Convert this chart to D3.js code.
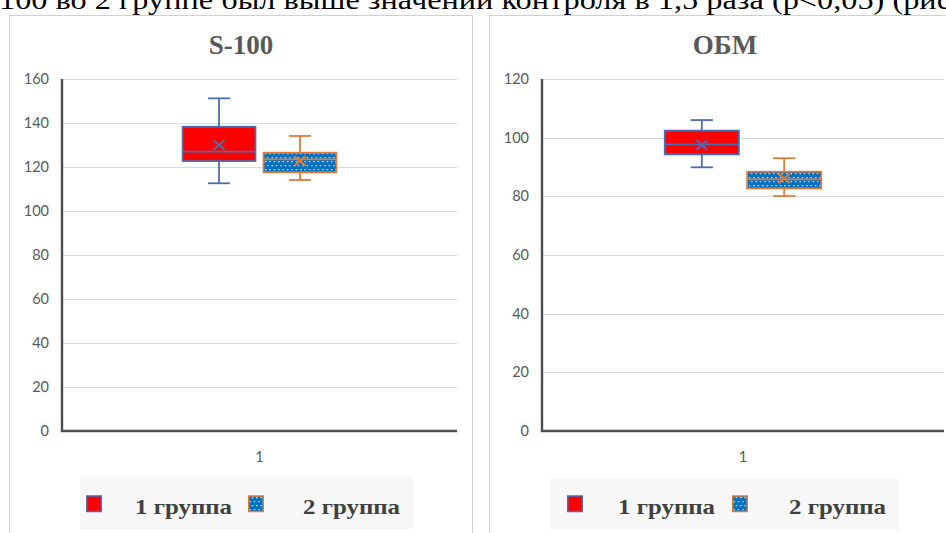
<!DOCTYPE html>
<html>
<head>
<meta charset="utf-8">
<script src="https://cdn.jsdelivr.net/npm/d3@7/dist/d3.min.js"></script>
<style>
  html, body { margin: 0; padding: 0; background: #fff; overflow: hidden; }
  svg { display: block; }
</style>
</head>
<body>
<svg id="fig" width="946" height="533"></svg>
<script>
// ---- data ----
const categories = ["1"];
const groups = ["1 группа", "2 группа"];

// S-100: [whisker low, Q1, median, Q3, whisker high, mean] per group
const s100Low    = [112.6, 114.1];
const s100Q1     = [122.7, 117.6];
const s100Median = [127.0, 123.5];
const s100Q3     = [138.3, 126.5];
const s100High   = [151.2, 134.1];
const s100Mean   = [130.0, 122.7];
const s100Ticks  = [0, 20, 40, 60, 80, 100, 120, 140, 160];

// ОБМ
const obmLow    = [89.9, 80.1];
const obmQ1     = [94.3, 82.7];
const obmMedian = [97.7, 85.8];
const obmQ3     = [102.4, 88.4];
const obmHigh   = [106.0, 93.0];
const obmMean   = [97.5, 86.1];
const obmTicks  = [0, 20, 40, 60, 80, 100, 120];

const headerText = "100 во 2 группе был выше значений контроля в 1,5 раза (р<0,05) (рис";

// ---- styles ----
const fills   = ["#ff0000", "url(#dots)"];
const strokes = ["#4a6db3", "#e07b39"];
const axisInk = "#595959";
const gridInk = "#d9d9d9";
const tickFont = "Lato, 'Open Sans', sans-serif";
const serif = "'Liberation Serif', 'Times New Roman', serif";

const svg = d3.select("#fig");

// dotted fill for the second group
const defs = svg.append("defs");
const pat = defs.append("pattern")
  .attr("id", "dots").attr("patternUnits", "userSpaceOnUse")
  .attr("width", 4.4).attr("height", 8);
pat.append("rect").attr("width", 4.4).attr("height", 8).attr("fill", "#0070c0");
pat.append("rect").attr("x", 1).attr("y", 1).attr("width", 1.3).attr("height", 1.3).attr("fill", "#e8f2fb");
pat.append("rect").attr("x", 3.2).attr("y", 5).attr("width", 1.3).attr("height", 1.3).attr("fill", "#e8f2fb");

// running text line above the figure (its upper half lies above the page edge)
svg.append("text")
  .attr("x", -1).attr("y", 8.5)
  .attr("font-family", serif).attr("font-size", 27)
  .attr("fill", "#000")
  .attr("textLength", 952).attr("lengthAdjust", "spacingAndGlyphs")
  .text(headerText);

function panel(cfg) {
  const g = svg.append("g");

  // chart frame
  g.append("rect")
    .attr("x", cfg.frame[0] + 0.5).attr("y", cfg.frame[1] + 0.5)
    .attr("width", cfg.frame[2]).attr("height", cfg.frame[3])
    .attr("fill", "#fff").attr("stroke", "#d0d0d0").attr("stroke-width", 1);

  const y = d3.scaleLinear().domain([0, d3.max(cfg.ticks)]).range([cfg.bottom, cfg.top]);
  const x0 = d3.scaleBand().domain(categories).range([cfg.left, cfg.right]);
  const x1 = d3.scaleBand().domain(groups).range([0, x0.bandwidth()])
    .paddingInner(0.1).paddingOuter(1.49);

  // gridlines
  g.append("g").selectAll("line").data(cfg.ticks.filter(t => t > 0)).join("line")
    .attr("x1", cfg.left).attr("x2", cfg.right)
    .attr("y1", d => Math.round(y(d)) + 0.5).attr("y2", d => Math.round(y(d)) + 0.5)
    .attr("stroke", gridInk).attr("stroke-width", 1.2);

  // y axis
  const ya = g.append("g").attr("transform", `translate(${cfg.left},0)`)
    .call(d3.axisLeft(y).tickValues(cfg.ticks).tickSize(0).tickPadding(13));
  ya.select(".domain").remove();
  ya.selectAll("text").attr("font-family", tickFont).attr("font-size", 14.5).attr("fill", axisInk);

  // x axis
  const xa = g.append("g").attr("transform", `translate(0,${cfg.bottom})`)
    .call(d3.axisBottom(x0).tickSize(0).tickPadding(21));
  xa.select(".domain").remove();
  xa.selectAll("text").attr("font-family", tickFont).attr("font-size", 14.5).attr("fill", axisInk);

  // axis lines
  g.append("path")
    .attr("d", `M${cfg.left},${cfg.top}V${cfg.bottom}H${cfg.right}`)
    .attr("fill", "none").attr("stroke", "#4d4d4d").attr("stroke-width", 2.4);

  // title
  g.append("text")
    .attr("x", cfg.titleX).attr("y", 54).attr("text-anchor", "middle")
    .attr("font-family", serif).attr("font-weight", "bold").attr("font-size", 27)
    .attr("fill", axisInk).text(cfg.title);

  // boxes
  const cat = categories[0];
  groups.forEach((grp, i) => {
    const bx = x0(cat) + x1(grp);
    const bw = x1.bandwidth();
    const cx = bx + bw / 2;
    const cap = bw * 0.3;
    const bg = g.append("g").attr("stroke", strokes[i]).attr("stroke-width", 1.8).attr("fill", "none");
    // whiskers
    bg.append("line").attr("x1", cx).attr("x2", cx).attr("y1", y(cfg.high[i])).attr("y2", y(cfg.q3[i]));
    bg.append("line").attr("x1", cx).attr("x2", cx).attr("y1", y(cfg.q1[i])).attr("y2", y(cfg.low[i]));
    bg.append("line").attr("x1", cx - cap / 2).attr("x2", cx + cap / 2).attr("y1", y(cfg.high[i])).attr("y2", y(cfg.high[i]));
    bg.append("line").attr("x1", cx - cap / 2).attr("x2", cx + cap / 2).attr("y1", y(cfg.low[i])).attr("y2", y(cfg.low[i]));
    // box
    bg.append("rect").attr("x", bx).attr("y", y(cfg.q3[i]))
      .attr("width", bw).attr("height", y(cfg.q1[i]) - y(cfg.q3[i]))
      .attr("fill", fills[i]);
    // median
    bg.append("line").attr("x1", bx).attr("x2", bx + bw).attr("y1", y(cfg.median[i])).attr("y2", y(cfg.median[i]));
    // mean marker
    const m = y(cfg.mean[i]), r = 5.5;
    bg.append("path")
      .attr("d", `M${cx - r},${m - r * 0.85}L${cx + r},${m + r * 0.85}M${cx - r},${m + r * 0.85}L${cx + r},${m - r * 0.85}`)
      .attr("stroke-width", 2);
  });

  // legend
  const lg = g.append("g");
  lg.append("rect")
    .attr("x", cfg.legend[0]).attr("y", cfg.legend[1])
    .attr("width", cfg.legend[2]).attr("height", cfg.legend[3])
    .attr("fill", "#f7f7f7");
  const lc = cfg.legend[0] + cfg.legend[2] / 2;
  const items = [
    { sq: lc + cfg.legOff[0], tx: lc + cfg.legOff[1] },
    { sq: lc + cfg.legOff[2], tx: lc + cfg.legOff[3] }
  ];
  groups.forEach((grp, i) => {
    lg.append("rect")
      .attr("x", items[i].sq + 0.75).attr("y", 496)
      .attr("width", 14.5).attr("height", 15.5)
      .attr("fill", fills[i]).attr("stroke", strokes[i]).attr("stroke-width", 1.5);
    lg.append("text")
      .attr("x", items[i].tx).attr("y", 514)
      .attr("font-family", serif).attr("font-weight", "bold").attr("font-size", 21)
      .attr("fill", "#404040")
      .attr("textLength", 97).attr("lengthAdjust", "spacingAndGlyphs")
      .text(grp);
  });
}

panel({
  frame: [9, 15, 463, 540],
  left: 62, right: 457, top: 79, bottom: 431,
  ticks: s100Ticks, title: "S-100", titleX: 241,
  low: s100Low, q1: s100Q1, median: s100Median, q3: s100Q3, high: s100High, mean: s100Mean,
  legend: [80, 477, 333, 52], legOff: [-160.5, -111.5, 1.5, 56.5]
});

panel({
  frame: [489, 15, 500, 540],
  left: 542, right: 944, top: 79, bottom: 431,
  ticks: obmTicks, title: "ОБМ", titleX: 725,
  low: obmLow, q1: obmQ1, median: obmMedian, q3: obmQ3, high: obmHigh, mean: obmMean,
  legend: [550, 479, 349, 51], legOff: [-157.5, -106.5, 7.5, 64.5]
});
</script>
</body>
</html>
